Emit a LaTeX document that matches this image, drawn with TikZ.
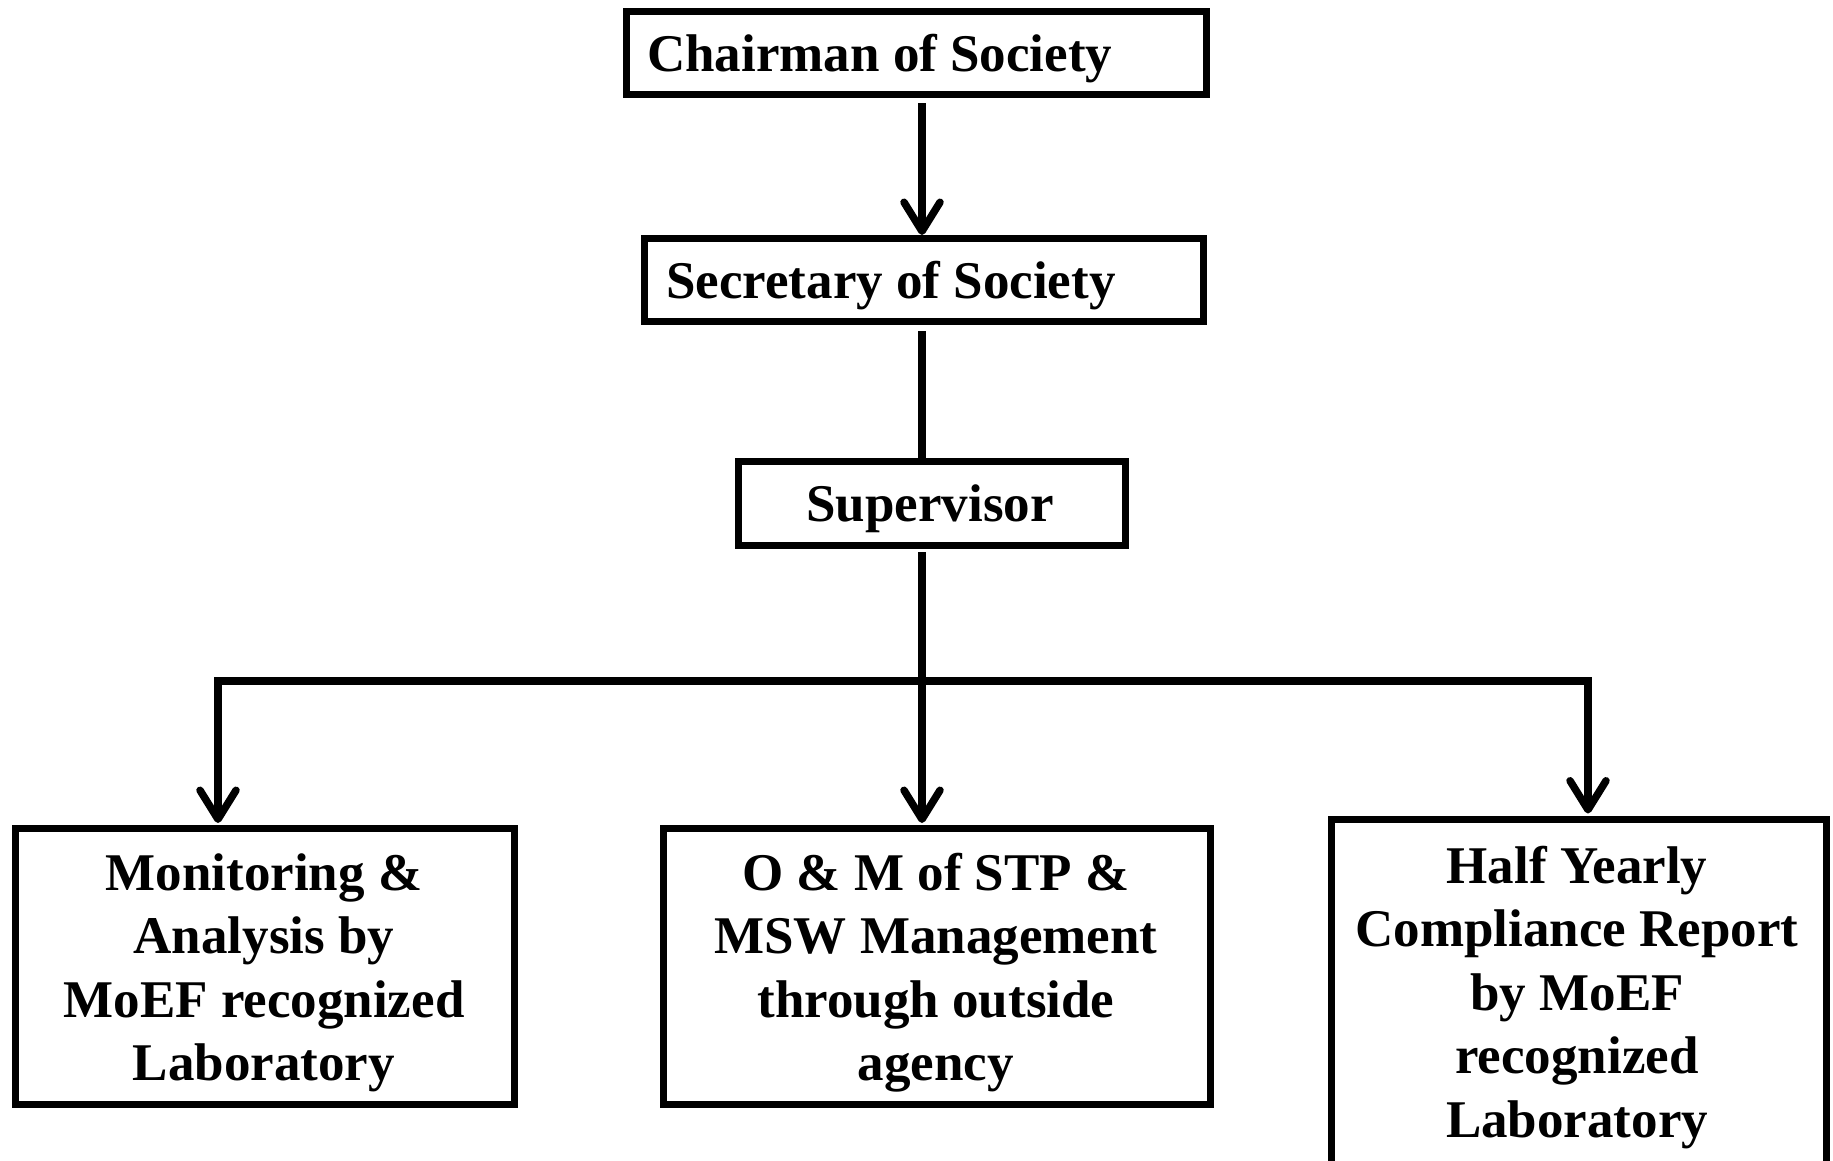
\documentclass[tikz,border=0pt]{standalone}
\usepackage{fontspec}
\setmainfont{Liberation Serif}
\usetikzlibrary{arrows.meta,calc}
\begin{document}
\begin{tikzpicture}[x=1pt,y=-1pt,
  box/.style={draw=black,line width=7pt,rectangle,inner sep=0pt,fill=white},
  lbl/.style={inner sep=0pt,font=\fontsize{53}{63.5}\selectfont\bfseries},
  mlbl/.style={lbl,align=flush center,anchor=base},
  conn/.style={line width=7.5pt,draw=black},
  arr/.style={conn,-{Straight Barb[length=29pt,width=36pt,round]}}]
\useasboundingbox[fill=white] (0,0) rectangle (1833,1160);
\begin{scope}
\clip (0,0) rectangle (1833,1160);
% boxes
\node[box,minimum width=580pt,minimum height=83pt] (chair) at (916,52.5) {};
\node[box,minimum width=559pt,minimum height=83pt] (sec) at (923.5,280) {};
\node[box,minimum width=387pt,minimum height=84pt] (sup) at (931.5,503) {};
\node[box,minimum width=499pt,minimum height=276pt] (left) at (264.5,966.5) {};
\node[box,minimum width=547pt,minimum height=276pt] (mid) at (937,966.5) {};
\node[box,minimum width=495pt,minimum height=350pt] (right) at (1578.5,994) {};
% texts
\node[lbl,anchor=base west] (tchair) at (647,71) {Chairman of Society};
\node[lbl,anchor=base west] (tsec) at (666,298) {Secretary of Society};
\node[lbl,anchor=base] (tsup) at (930,521) {Supervisor};
\node[mlbl,text width=480pt] (tleft) at (264,890) {Monitoring \&\\Analysis by\\MoEF recognized\\Laboratory};
\node[mlbl,text width=500pt] (tmid) at (936,890) {O \& M of STP \&\\MSW Management\\through outside\\agency};
\node[mlbl,text width=470pt] (tright) at (1577,883) {Half Yearly\\Compliance Report\\by MoEF\\recognized\\Laboratory};
% connector coordinates
\coordinate (c1) at (922,103);
\coordinate (c2) at (922,331);
\coordinate (c3) at (922,552);
\coordinate (hl) at (218,681);
\coordinate (hm) at (922,681);
\coordinate (hr) at (1588,681);
% connectors
\draw[arr] (c1) -- (c1 |- sec.north);
\draw[conn] (c2) -- (c2 |- sup.north);
\draw[arr,shorten >=2pt] (c3) -- (c3 |- mid.north);
\draw[arr,shorten >=2pt] (hm) -- (hl) -- (hl |- left.north);
\draw[arr,shorten >=2pt] (hm) -- (hr) -- (hr |- right.north);
\end{scope}
\end{tikzpicture}
\end{document}
